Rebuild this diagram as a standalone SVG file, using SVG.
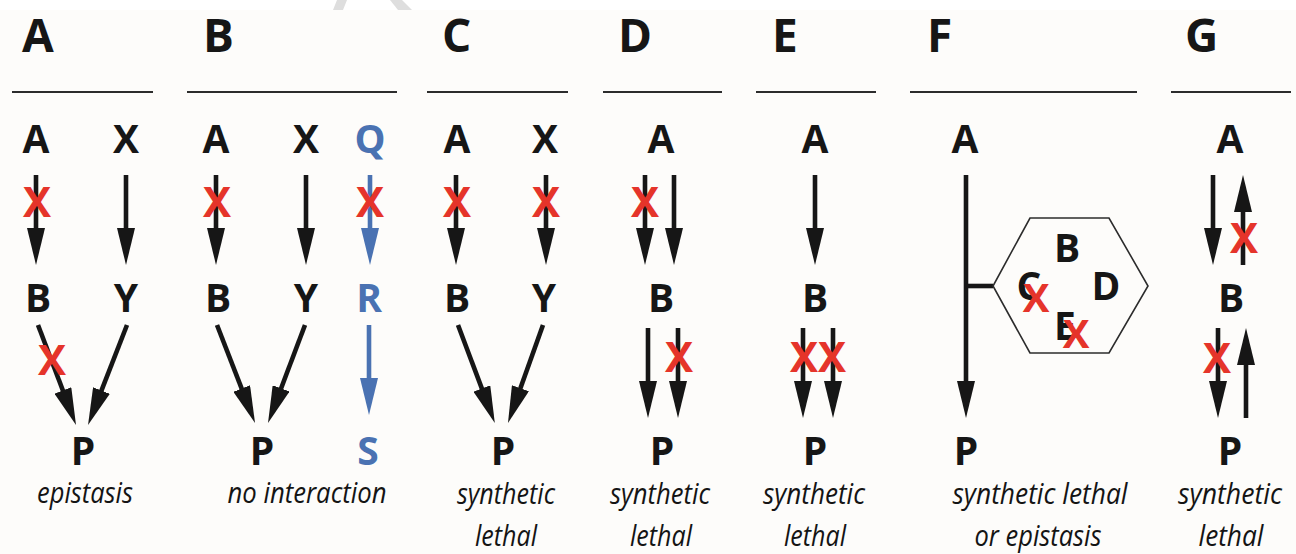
<svg xmlns="http://www.w3.org/2000/svg" width="1296" height="554" viewBox="0 0 1296 554">
<style>
.hd{font-family:"Open Sans","Liberation Sans",sans-serif;font-weight:700;font-size:46px;fill:#161616}
.n{font-family:"Open Sans","Liberation Sans",sans-serif;font-weight:700;font-size:39px;fill:#161616;text-anchor:middle}
.bl{fill:#4a72b2}
.x{font-family:"Open Sans","Liberation Sans",sans-serif;font-weight:700;font-size:42px;fill:#e5342a;text-anchor:middle}
.xs{font-size:40px}
.lb{font-family:"Open Sans","Liberation Sans",sans-serif;font-style:italic;font-size:30px;fill:#141414;text-anchor:middle}
.rule{stroke:#2c2c2c;stroke-width:2;fill:none}
.ar{stroke:#161616;stroke-width:4.6;fill:none;marker-end:url(#ah)}
.arb{stroke:#4a72b2;stroke-width:4.6;fill:none;marker-end:url(#ahb)}
.hex{stroke:#2c2c2c;stroke-width:1.6;fill:none}
</style>
<defs>
<marker id="ah" viewBox="0 0 37 18" refX="17" refY="9" markerWidth="37" markerHeight="18" markerUnits="userSpaceOnUse" orient="auto"><path d="M0,0 L37,9 L0,18 Z" fill="#161616"/></marker>
<marker id="ahb" viewBox="0 0 37 18" refX="17" refY="9" markerWidth="37" markerHeight="18" markerUnits="userSpaceOnUse" orient="auto"><path d="M0,0 L37,9 L0,18 Z" fill="#4a72b2"/></marker>
</defs>
<rect width="1296" height="554" fill="#fdfcfa"/>
<rect width="1296" height="10" fill="#ffffff"/>
<polygon points="337,0 347,0 343,10 333,10" fill="#dedede"/>
<polygon points="390,0 402,0 412,10 398,10" fill="#dedede"/>

<g id="headers">
<text class="hd" x="22" y="52">A</text>
<text class="hd" x="203" y="52">B</text>
<text class="hd" x="442" y="52">C</text>
<text class="hd" x="618" y="52">D</text>
<text class="hd" x="772" y="52">E</text>
<text class="hd" x="927" y="52">F</text>
<text class="hd" x="1185" y="52">G</text>
</g>
<g id="rules">
<line class="rule" x1="12" y1="92" x2="153" y2="92"/>
<line class="rule" x1="187" y1="92" x2="397" y2="92"/>
<line class="rule" x1="427" y1="92" x2="568" y2="92"/>
<line class="rule" x1="603" y1="92" x2="722" y2="92"/>
<line class="rule" x1="756" y1="92" x2="876" y2="92"/>
<line class="rule" x1="910" y1="92" x2="1137" y2="92"/>
<line class="rule" x1="1171" y1="92" x2="1291" y2="92"/>
</g>

<g id="connectors">
<line class="ar" x1="36" y1="175" x2="36" y2="245"/>
<line class="ar" x1="126" y1="175" x2="126" y2="245"/>
<line class="ar" x1="38" y1="325" x2="68.9" y2="406.3"/>
<line class="ar" x1="127" y1="325" x2="95.3" y2="406.4"/>
<line class="ar" x1="216" y1="175" x2="216" y2="245"/>
<line class="ar" x1="306" y1="175" x2="306" y2="245"/>
<line class="arb" x1="370" y1="175" x2="370" y2="245"/>
<line class="ar" x1="217" y1="325" x2="247.8" y2="404.4"/>
<line class="ar" x1="305" y1="325" x2="275.1" y2="404.3"/>
<line class="arb" x1="369" y1="325" x2="369" y2="395"/>
<line class="ar" x1="456" y1="175" x2="456" y2="245"/>
<line class="ar" x1="546" y1="175" x2="546" y2="245"/>
<line class="ar" x1="458" y1="325" x2="487.8" y2="404.4"/>
<line class="ar" x1="543" y1="325" x2="514.7" y2="404.2"/>
<line class="ar" x1="645" y1="175" x2="645" y2="245"/>
<line class="ar" x1="674" y1="175" x2="674" y2="245"/>
<line class="ar" x1="648" y1="328" x2="648" y2="398"/>
<line class="ar" x1="678" y1="328" x2="678" y2="398"/>
<line class="ar" x1="815" y1="175" x2="815" y2="245"/>
<line class="ar" x1="803" y1="328" x2="803" y2="398"/>
<line class="ar" x1="833" y1="328" x2="833" y2="398"/>
<line class="ar" x1="966" y1="175" x2="966" y2="398"/>
<line x1="966" y1="286" x2="993" y2="286" stroke="#161616" stroke-width="4.6"/>
<line class="ar" x1="1213" y1="175" x2="1213" y2="245"/>
<line class="ar" x1="1243" y1="265" x2="1243" y2="195"/>
<line class="ar" x1="1218" y1="328" x2="1218" y2="398"/>
<line class="ar" x1="1246" y1="418" x2="1246" y2="348"/>
</g>

<g id="panelA">
<text class="n" x="36" y="153">A</text>
<text class="n" x="126" y="153">X</text>
<text class="n" x="38" y="312">B</text>
<text class="n" x="126" y="312">Y</text>
<text class="n" x="83" y="465">P</text>
<text class="x" x="37" y="217">X</text>
<text class="x" x="52" y="375">X</text>
<text class="lb" x="85" y="503" textLength="96" lengthAdjust="spacingAndGlyphs">epistasis</text>
</g>
<g id="panelB">
<text class="n" x="216" y="153">A</text>
<text class="n" x="306" y="153">X</text>
<text class="n bl" x="370" y="153">Q</text>
<text class="n" x="218" y="312">B</text>
<text class="n" x="306" y="312">Y</text>
<text class="n bl" x="369" y="312">R</text>
<text class="n" x="262" y="465">P</text>
<text class="n bl" x="368" y="465">S</text>
<text class="x" x="217" y="217">X</text>
<text class="x" x="370" y="217">X</text>
<text class="lb" x="307" y="503" textLength="159" lengthAdjust="spacingAndGlyphs">no interaction</text>
</g>
<g id="panelC">
<text class="n" x="457" y="153">A</text>
<text class="n" x="545" y="153">X</text>
<text class="n" x="457" y="312">B</text>
<text class="n" x="544" y="312">Y</text>
<text class="n" x="503" y="465">P</text>
<text class="x" x="457" y="217">X</text>
<text class="x" x="546" y="217">X</text>
<text class="lb" x="506" y="504" textLength="98" lengthAdjust="spacingAndGlyphs">synthetic</text>
<text class="lb" x="506" y="546" textLength="62" lengthAdjust="spacingAndGlyphs">lethal</text>
</g>
<g id="panelD">
<text class="n" x="661" y="153">A</text>
<text class="n" x="661" y="312">B</text>
<text class="n" x="662" y="465">P</text>
<text class="x" x="645" y="217">X</text>
<text class="x" x="679" y="372">X</text>
<text class="lb" x="660" y="504" textLength="100" lengthAdjust="spacingAndGlyphs">synthetic</text>
<text class="lb" x="661" y="546" textLength="62" lengthAdjust="spacingAndGlyphs">lethal</text>
</g>
<g id="panelE">
<text class="n" x="815" y="153">A</text>
<text class="n" x="815" y="312">B</text>
<text class="n" x="815" y="465">P</text>
<text class="x" x="804" y="372">X</text>
<text class="x" x="832" y="372">X</text>
<text class="lb" x="814" y="504" textLength="102" lengthAdjust="spacingAndGlyphs">synthetic</text>
<text class="lb" x="815" y="546" textLength="62" lengthAdjust="spacingAndGlyphs">lethal</text>
</g>
<g id="panelF">
<text class="n" x="965" y="153">A</text>
<text class="n" x="966" y="465">P</text>
<polygon class="hex" points="1030,218 1109,218 1148,286 1109,353 1030,353 993,286"/>
<text class="n" x="1067" y="262">B</text>
<text class="n" x="1029" y="300">C</text>
<text class="n" x="1106" y="300">D</text>
<text class="n" x="1065" y="340">E</text>
<text class="x xs" x="1036" y="312">X</text>
<text class="x xs" x="1076" y="348">X</text>
<text class="lb" x="1040" y="504" textLength="175" lengthAdjust="spacingAndGlyphs">synthetic lethal</text>
<text class="lb" x="1038" y="546" textLength="127" lengthAdjust="spacingAndGlyphs">or epistasis</text>
</g>
<g id="panelG">
<text class="n" x="1230" y="153">A</text>
<text class="n" x="1231" y="312">B</text>
<text class="n" x="1230" y="465">P</text>
<text class="x" x="1244" y="253">X</text>
<text class="x" x="1217" y="373">X</text>
<text class="lb" x="1230" y="504" textLength="104" lengthAdjust="spacingAndGlyphs">synthetic</text>
<text class="lb" x="1231" y="546" textLength="65" lengthAdjust="spacingAndGlyphs">lethal</text>
</g>
</svg>
